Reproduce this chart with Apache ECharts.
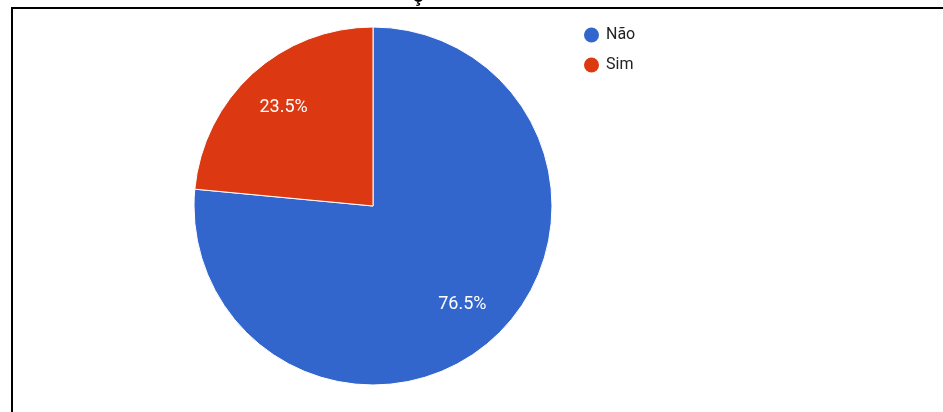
<!DOCTYPE html>
<html>
<head>
<meta charset="utf-8">
<script src="https://cdn.jsdelivr.net/npm/echarts@6/dist/echarts.min.js"></script>
<style>
  html, body { margin: 0; padding: 0; background: #fff; }
  #chart { width: 943px; height: 412px; }
</style>
</head>
<body>
<div id="chart"></div>
<script>
// Answer categories and their shares (percent)
const categories = ['Não', 'Sim'];
const shares = [76.5, 23.5];
const sliceColors = ['#3366cc', '#dc3912'];
const titleTail = 'ç';

const chart = echarts.init(document.getElementById('chart'), null, { renderer: 'canvas' });

const pieData = categories.map((name, i) => ({ name, value: shares[i] }));
const center = [373, 206];
const R = 179;
const font = 'Roboto, Arial, "Liberation Sans", sans-serif';

chart.setOption({
  animation: false,
  backgroundColor: '#ffffff',
  color: sliceColors,
  legend: {
    orient: 'vertical',
    left: 579,
    top: 22,
    itemGap: 14,
    icon: 'circle',
    itemWidth: 15,
    itemHeight: 15,
    itemStyle: { borderWidth: 0 },
    textStyle: { fontFamily: font, fontSize: 16, color: '#222', padding: [0, 0, 0, 2] },
    data: categories
  },
  graphic: [
    {
      type: 'polyline',
      shape: { points: [[12, 412], [12, 8], [943, 8]] },
      style: { stroke: '#000', lineWidth: 2, fill: null },
      silent: true,
      z: 10
    },
    {
      type: 'text',
      x: 418,
      y: -14,
      style: {
        text: titleTail,
        fontFamily: 'Arial, "Liberation Sans", sans-serif',
        fontWeight: 'bold',
        fontSize: 20,
        fill: '#000',
        align: 'center',
        verticalAlign: 'top'
      },
      silent: true,
      z: 11
    }
  ],
  series: [
    {
      type: 'pie',
      center: center,
      radius: [0, R],
      startAngle: 90,
      clockwise: true,
      avoidLabelOverlap: false,
      silent: true,
      label: { show: false },
      labelLine: { show: false },
      itemStyle: { borderColor: '#ffffff', borderWidth: 1 },
      data: pieData
    },
    {
      // transparent ring that carries the percentage labels, a bit inside 3/4 of the radius
      type: 'pie',
      center: center,
      radius: [R * 0.45, R],
      startAngle: 90,
      clockwise: true,
      avoidLabelOverlap: false,
      silent: true,
      itemStyle: { color: 'rgba(0,0,0,0)', borderWidth: 0 },
      label: {
        show: true,
        position: 'inner',
        color: '#ffffff',
        fontFamily: font,
        fontSize: 18,
        formatter: p => p.value.toFixed(1) + '%'
      },
      labelLine: { show: false },
      data: pieData
    }
  ]
});
</script>
</body>
</html>
